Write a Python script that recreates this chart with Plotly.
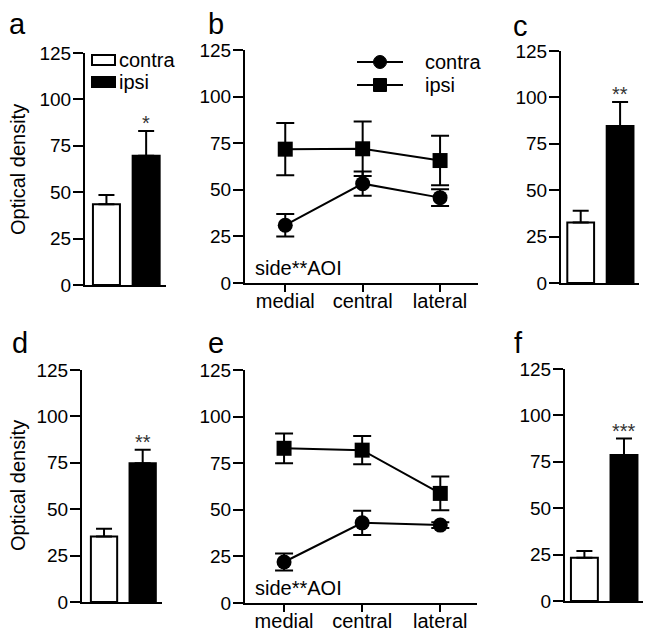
import plotly.graph_objects as go

W, H = 651, 639
OX, OY = 8, 8  # page body offset
FONT = "Liberation Sans, Arial, sans-serif"
TXT = "black"

# ---- data ----
sides = ["contra", "ipsi"]
regions = ["medial", "central", "lateral"]

a_mean = [43.5, 69.7]
a_err = [5.0, 13.3]
b_contra = [31.0, 53.3, 45.8]
b_contra_err = [6.0, 6.5, 4.5]
b_ipsi = [71.8, 72.0, 65.7]
b_ipsi_err = [14.0, 14.6, 13.3]
c_mean = [32.6, 84.6]
c_err = [6.3, 12.9]
d_mean = [35.3, 74.8]
d_err = [4.1, 7.2]
e_contra = [22.0, 43.0, 41.8]
e_contra_err = [4.5, 6.5, 1.5]
e_ipsi = [83.0, 82.0, 58.8]
e_ipsi_err = [8.0, 7.6, 9.0]
f_mean = [23.3, 78.6]
f_err = [3.7, 8.9]

stars = {"a": "*", "c": "**", "d": "**", "f": "***"}
y_ticks = [0, 25, 50, 75, 100, 125]
bar_colors = ["white", "black"]


def px(x):
    return (x - OX) / W


def py(y):
    return 1 - (y - OY) / H


fig = go.Figure()

panels = {
    "a": dict(ax="", x=(85, 166), y=(285, 53), xr=[-0.54, 1.5]),
    "b": dict(ax="2", x=(245, 478), y=(283, 50), xr=[-0.52, 2.49]),
    "c": dict(ax="3", x=(561, 639), y=(283, 51), xr=[-0.5, 1.48]),
    "d": dict(ax="4", x=(82, 162), y=(602, 370), xr=[-0.57, 1.5]),
    "e": dict(ax="5", x=(245, 477), y=(603, 370), xr=[-0.5, 2.47]),
    "f": dict(ax="6", x=(565, 643), y=(601, 369), xr=[-0.49, 1.48]),
}

bar_data = {"a": (a_mean, a_err), "c": (c_mean, c_err),
            "d": (d_mean, d_err), "f": (f_mean, f_err)}
line_data = {"b": (b_contra, b_contra_err, b_ipsi, b_ipsi_err),
             "e": (e_contra, e_contra_err, e_ipsi, e_ipsi_err)}

annotations = []
shapes = []
layout_axes = {}

for key, p in panels.items():
    ax = p["ax"]
    xa, ya = "x" + ax, "y" + ax
    xname, yname = "xaxis" + ax, "yaxis" + ax
    if key in bar_data:
        mean, err = bar_data[key]
        fig.add_trace(go.Bar(
            x=[0, 1], y=mean, width=0.68, xaxis=xa, yaxis=ya, name=key,
            marker=dict(color=bar_colors, line=dict(color="black", width=2)),
            error_y=dict(type="data", symmetric=False, array=err,
                         arrayminus=[0, 0], color="black", thickness=2, width=8),
            showlegend=False,
        ))
        annotations.append(dict(
            xref=xa, yref=ya, x=1, y=mean[1] + err[1], yanchor="bottom",
            xanchor="center", yshift=-5, text=stars[key], showarrow=False,
            font=dict(family=FONT, size=20, color="#333")))
        layout_axes[xname] = dict(
            domain=[px(p["x"][0]), px(p["x"][1])], anchor=ya,
            range=p["xr"], showline=True, linecolor="black", linewidth=2,
            showticklabels=False, ticks="", showgrid=False, zeroline=False)
    else:
        c, ce, i, ie = line_data[key]
        fig.add_trace(go.Scatter(
            x=regions, y=c, xaxis=xa, yaxis=ya, name="contra",
            mode="lines+markers", cliponaxis=False, showlegend=False,
            line=dict(color="black", width=2),
            marker=dict(symbol="circle", size=15, color="black"),
            error_y=dict(type="data", array=ce, color="black",
                         thickness=2, width=9),
        ))
        fig.add_trace(go.Scatter(
            x=regions, y=i, xaxis=xa, yaxis=ya, name="ipsi",
            mode="lines+markers", cliponaxis=False, showlegend=False,
            line=dict(color="black", width=2),
            marker=dict(symbol="square", size=15, color="black"),
            error_y=dict(type="data", array=ie, color="black",
                         thickness=2, width=9),
        ))
        layout_axes[xname] = dict(
            domain=[px(p["x"][0]), px(p["x"][1])], anchor=ya,
            type="category", range=p["xr"], showline=True, linecolor="black",
            linewidth=2, ticks="outside", ticklen=7, tickwidth=2,
            tickcolor="black", showgrid=False, zeroline=False,
            ticklabelstandoff=-8,
            tickfont=dict(family=FONT, size=20, color=TXT))
        annotations.append(dict(
            xref="paper", yref="paper", x=px(p["x"][0] + 8), xanchor="left",
            y=py(p["y"][0] - 15), yanchor="middle", text="side**AOI",
            showarrow=False, font=dict(family=FONT, size=20, color=TXT)))
    layout_axes[yname] = dict(
        domain=[py(p["y"][0]), py(p["y"][1])], anchor=xa, range=[0, 125],
        tickvals=y_ticks, showline=True, linecolor="black", linewidth=2,
        ticks="outside", ticklen=10, tickwidth=2, tickcolor="black",
        showgrid=False, zeroline=False, ticklabelstandoff=-2,
        tickfont=dict(family=FONT, size=19, color=TXT))

# panel letters
letters = {"a": (17, 24), "b": (216, 24), "c": (520, 26),
           "d": (20, 343), "e": (216, 343), "f": (518, 343)}
for t, (x, y) in letters.items():
    annotations.append(dict(
        xref="paper", yref="paper", x=px(x), y=py(y), xanchor="center",
        yanchor="middle", text=t, showarrow=False,
        font=dict(family=FONT, size=29, color=TXT)))

# y titles
for yc in (170, 486):
    annotations.append(dict(
        xref="paper", yref="paper", x=px(18), y=py(yc), xanchor="center",
        yanchor="middle", text="Optical density", textangle=-90,
        showarrow=False, font=dict(family=FONT, size=20, color=TXT)))

# legend of panel a (bar swatches)
shapes += [
    dict(type="rect", xref="paper", yref="paper", x0=px(92), x1=px(115),
         y0=py(65), y1=py(55), fillcolor="white",
         line=dict(color="black", width=2)),
    dict(type="rect", xref="paper", yref="paper", x0=px(92), x1=px(115),
         y0=py(87), y1=py(77), fillcolor="black",
         line=dict(color="black", width=2)),
]
for txt, y in (("contra", 60), ("ipsi", 82)):
    annotations.append(dict(
        xref="paper", yref="paper", x=px(117), xanchor="left", y=py(y),
        yanchor="middle", text=txt, showarrow=False,
        font=dict(family=FONT, size=20, color=TXT)))

# legend of panel b (line + marker swatches)
for y, sym in ((62, "circle"), (85, "square")):
    shapes.append(dict(type="line", xref="paper", yref="paper",
                       x0=px(357), x1=px(403), y0=py(y), y1=py(y),
                       line=dict(color="black", width=2)))
    shapes.append(dict(type="circle" if sym == "circle" else "rect",
                       xref="paper", yref="paper",
                       x0=px(373.5), x1=px(386.5), y0=py(y + 6.5),
                       y1=py(y - 6.5), fillcolor="black",
                       line=dict(color="black", width=1)))
for txt, y in (("contra", 62), ("ipsi", 85)):
    annotations.append(dict(
        xref="paper", yref="paper", x=px(423), xanchor="left", y=py(y),
        yanchor="middle", text=txt, showarrow=False,
        font=dict(family=FONT, size=20, color=TXT)))

fig.update_layout(
    width=W, height=H,
    margin=dict(l=0, r=0, t=0, b=0, autoexpand=False),
    paper_bgcolor="white", plot_bgcolor="white",
    annotations=annotations, shapes=shapes, showlegend=False,
    **layout_axes,
)

fig.write_html("out.html")
